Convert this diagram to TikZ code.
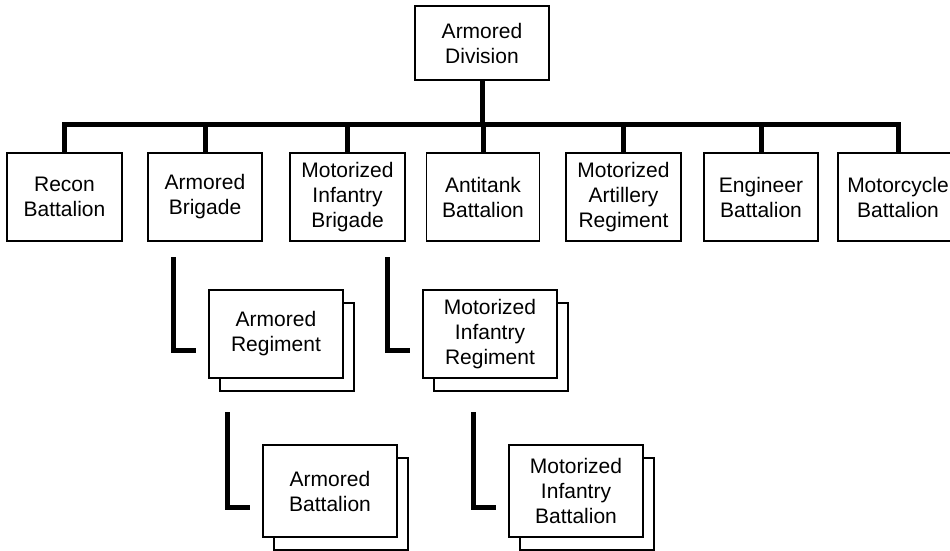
\documentclass[tikz,border=0pt]{standalone}
\usepackage{fontspec}
\setmainfont{Liberation Sans}
\usetikzlibrary{calc, shadows}

\begin{document}
\begin{tikzpicture}[x=1pt, y=-1pt,
        unit/.style={draw, line width=1.8pt, fill=white, align=center, inner sep=0pt,
            minimum width=115pt, minimum height=88pt, font=\fontsize{21}{25}\selectfont},
        stack/.style={unit, minimum width=134pt,
            copy shadow={shadow xshift=11pt, shadow yshift=-13pt, draw, fill=white, line width=1.8pt}},
        link/.style={line width=5pt}]
                \useasboundingbox (0,0) rectangle (950,551);
                % Division
                \node[unit, minimum width=134pt, minimum height=74pt] (div) at (482,43) {Armored\\Division};

                % Divisional units
                \node[unit] (recon) at (64.5,197) {Recon\\Battalion};
                \node[unit, minimum width=114pt] (armbde) at (205,197) {Armored\\Brigade};
                \node[unit] (mibde) at (347.5,197) {Motorized\\Infantry\\Brigade};
                \node[unit, minimum width=113pt] (atk) at (483,197) {Antitank\\Battalion};
                \node[unit] (art) at (623.5,197) {Motorized\\Artillery\\Regiment};
                \node[unit, minimum width=114pt] (eng) at (761,197) {Engineer\\Battalion};
                \node[unit, minimum width=120pt] (moto) at (898,197) {Motorcycle\\Battalion};

                % Bus line
                \coordinate (bus) at (0,124);
                \draw[link] (div.south) -- (div.south |- bus);
                \draw[link] (recon.north) -- (recon.north |- bus) -- (moto.north |- bus) -- (moto.north);
                \foreach \u in {armbde, mibde, atk, art, eng}
                    \draw[link] (\u.north) -- (\u.north |- bus);

                % Regiments
                \node[stack] (armreg) at (276,334) {Armored\\Regiment};
                \node[stack] (mireg) at (490,334) {Motorized\\Infantry\\Regiment};

                % Battalions
                \node[stack, minimum height=92pt] (armbn) at (330,491) {Armored\\Battalion};
                \node[stack, minimum height=92pt] (mibn) at (576,491) {Motorized\\Infantry\\Battalion};

                % Attachment brackets
                \foreach \u in {armreg, mireg, armbn, mibn} {
                    \coordinate (\u-top) at ($(\u.north west)+(-35,-32)$);
                    \coordinate (\u-end) at ($(\u.west)+(-12,16)$);
                    \draw[link] (\u-top) |- (\u-end);
                }
\end{tikzpicture}
\end{document}
